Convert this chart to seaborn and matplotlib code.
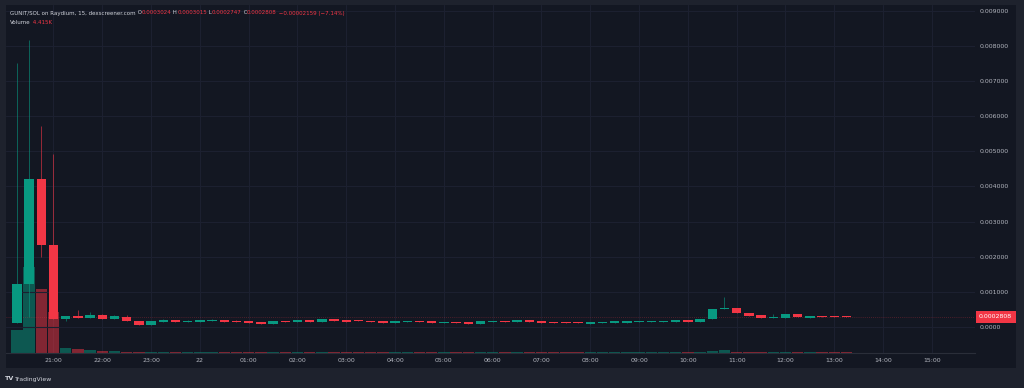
import numpy as np
import pandas as pd
import matplotlib
matplotlib.use("Agg")
import matplotlib.pyplot as plt
import seaborn as sns
from matplotlib.patches import Rectangle

# 15 minute candles, first one at 20:15 (hours counted from midnight of day 1)
start_hour = 20.25
step = 0.25

opens = [0.000105, 0.00122, 0.00422, 0.00232, 0.00024, 0.00031, 0.00025, 0.00034, 0.00024, 0.00029,
         0.00016, 0.00006, 0.00015, 0.00020, 0.00014, 0.00015, 0.00018, 0.00021, 0.00018, 0.00018,
         0.00015, 0.000085, 0.00018, 0.00013, 0.00021, 0.00015, 0.00023, 0.00020, 0.00019, 0.00018,
         0.00017, 0.00012, 0.00013, 0.00018, 0.00016, 0.00012, 0.00015, 0.00015, 0.000095, 0.00014,
         0.00018, 0.00015, 0.00019, 0.00017, 0.00015, 0.00015, 0.00015, 0.000095, 0.00010, 0.00012,
         0.00012, 0.00015, 0.00015, 0.00015, 0.00015, 0.00019, 0.00014, 0.00022, 0.00050, 0.00054,
         0.00039, 0.00033, 0.00027, 0.00027, 0.00036, 0.00027, 0.00030, 0.00030, 0.0003024]
highs = [0.00750, 0.00817, 0.00572, 0.00492, 0.00031, 0.00048, 0.00042, 0.00037, 0.00033, 0.00033,
         0.00016, 0.00017, 0.00023, 0.00020, 0.00019, 0.00021, 0.00023, 0.00021, 0.00019, 0.00018,
         0.00015, 0.00018, 0.00018, 0.00019, 0.00021, 0.00023, 0.00023, 0.00020, 0.00019, 0.00018,
         0.00017, 0.00018, 0.00018, 0.00018, 0.00016, 0.00015, 0.00015, 0.00015, 0.00017, 0.00018,
         0.00018, 0.00020, 0.00019, 0.00017, 0.00015, 0.00015, 0.00015, 0.00015, 0.00015, 0.00017,
         0.00018, 0.00018, 0.00018, 0.00018, 0.00020, 0.00019, 0.00023, 0.00050, 0.00086, 0.00054,
         0.00039, 0.00033, 0.00038, 0.00036, 0.00036, 0.00031, 0.00030, 0.00031, 0.0003024]
lows = [0.000105, 0.00029, 0.00198, 0.00022, 0.00018, 0.00025, 0.00025, 0.00024, 0.00024, 0.00016,
        0.00006, 0.00006, 0.00015, 0.00014, 0.00014, 0.00015, 0.00018, 0.00015, 0.00015, 0.00011,
        0.000085, 0.000085, 0.00015, 0.00013, 0.00015, 0.00015, 0.00017, 0.00015, 0.00016, 0.00014,
        0.00012, 0.00012, 0.00013, 0.00013, 0.00012, 0.00012, 0.00012, 0.000095, 0.000095, 0.00014,
        0.00015, 0.00015, 0.00014, 0.00012, 0.00012, 0.00012, 0.00012, 0.000095, 0.00010, 0.00012,
        0.00012, 0.00015, 0.00015, 0.00015, 0.00015, 0.00014, 0.00014, 0.00022, 0.00050, 0.00039,
        0.00032, 0.00027, 0.00027, 0.00027, 0.00029, 0.00027, 0.00029, 0.00029, 0.0002747]
closes = [0.00122, 0.00422, 0.00232, 0.00024, 0.00031, 0.00025, 0.00034, 0.00024, 0.00030, 0.00016,
          0.00006, 0.00017, 0.00021, 0.00014, 0.00018, 0.00021, 0.00020, 0.00015, 0.00015, 0.00011,
          0.000085, 0.00018, 0.00015, 0.00019, 0.00015, 0.00023, 0.00017, 0.00015, 0.00016, 0.00014,
          0.00012, 0.00018, 0.00018, 0.00013, 0.00012, 0.00015, 0.00012, 0.000095, 0.00017, 0.00018,
          0.00015, 0.00020, 0.00014, 0.00012, 0.00012, 0.00012, 0.00012, 0.00015, 0.00015, 0.00017,
          0.00018, 0.00018, 0.00018, 0.00018, 0.00020, 0.00014, 0.00023, 0.00050, 0.00054, 0.00039,
          0.00032, 0.00027, 0.00029, 0.00036, 0.00029, 0.00031, 0.00029, 0.00029, 0.0002808]
volumes_k = [99, 370, 275, 176, 21, 18, 13, 10, 7, 6,
             5, 6, 5, 5, 4, 4, 4, 5, 4, 4,
             5, 5, 4, 4, 5, 5, 4, 5, 4, 4,
             5, 4, 4, 5, 4, 4, 4, 5, 5, 4,
             4, 5, 5, 4, 4, 4, 4, 5, 5, 4,
             4, 4, 4, 4, 5, 5, 5, 9, 13, 6,
             6, 5, 4, 5, 5, 4, 4, 4, 4.415]

hour_ticks = list(range(21, 40))
hour_labels = ["21:00", "22:00", "23:00", "22", "01:00", "02:00", "03:00", "04:00", "05:00", "06:00",
               "07:00", "08:00", "09:00", "10:00", "11:00", "12:00", "13:00", "14:00", "15:00"]
price_ticks = [0.0, 0.001, 0.002, 0.003, 0.004, 0.005, 0.006, 0.007, 0.008, 0.009]
price_labels = ["0.0000", "0.001000", "0.002000", "0.003000", "0.004000", "0.005000",
                "0.006000", "0.007000", "0.008000", "0.009000"]
last_price = 0.0002808

UP = "#089981"
DOWN = "#f23645"
BG = "#131722"
OUTER = "#1e222d"
TXT = "#b2b5be"

df = pd.DataFrame({"open": opens, "high": highs, "low": lows, "close": closes, "vol": volumes_k})
df["t"] = start_hour + step * np.arange(len(df))
df["dir"] = np.where(df["close"] >= df["open"], "up", "down")
df["color"] = np.where(df["dir"] == "up", UP, DOWN)

sns.set_theme(style="dark")
plt.rcParams["font.family"] = ["DejaVu Sans"]

W, H = 1024, 388
fig = plt.figure(figsize=(W / 100, H / 100), dpi=100, facecolor=OUTER)
fig.patches.append(Rectangle((6 / W, (H - 368) / H), (1016 - 6) / W, (368 - 5) / H,
                             transform=fig.transFigure, facecolor=BG, edgecolor="none", zorder=-5))

rect = [6 / W, (H - 353) / H, (975 - 6) / W, (353 - 5) / H]

# x scale: 21:00 at px 53.5, 48.8 px per hour
px_per_hour = 48.8
x0 = 21 - (53.5 - 6) / px_per_hour
x1 = 21 + (975 - 53.5) / px_per_hour
# y scale: 0 at px 327, 0.001 per 35.14 px
px_per_unit = 35.14 / 0.001
y0 = -(353 - 327) / px_per_unit
y1 = 0.009 + (10.7 - 5) / px_per_unit

# volume pane (behind)
axv = fig.add_axes(rect)
axv.set_facecolor(BG)
sns.barplot(data=df, x="t", y="vol", hue="dir", palette={"up": UP, "down": DOWN},
            native_scale=True, width=0.95, dodge=False, saturation=1, alpha=0.5,
            errorbar=None, legend=False, linewidth=0, ax=axv)
axv.set_xlim(x0, x1)
axv.set_ylim(0, max(volumes_k) * 348 / 86)
axv.set_xticks(hour_ticks)
axv.grid(axis="x", color="#1c2030", lw=0.8)
axv.grid(axis="y", visible=False)
axv.set_yticks([])
axv.tick_params(length=0, labelbottom=False, labelleft=False)
axv.set_xlabel("")
axv.set_ylabel("")
for s in axv.spines.values():
    s.set_visible(False)

# price pane
ax = fig.add_axes(rect, sharex=axv)
ax.set_facecolor("none")
for y in price_ticks:
    ax.axhline(y, color="#1c2030", lw=0.8, zorder=0)
ax.axhline(last_price, color=DOWN, alpha=0.35, lw=0.6, ls=(0, (1, 1.5)), zorder=1)

min_h = 1.0 / px_per_unit
body_bottom = np.minimum(df["open"], df["close"])
body_h = np.maximum(np.abs(df["close"] - df["open"]), min_h)
ax.vlines(df["t"], df["low"], df["high"], colors=df["color"], lw=0.55, alpha=0.75, zorder=2)
ax.bar(df["t"], body_h, bottom=body_bottom, width=step * 0.76, color=df["color"],
       linewidth=0, zorder=3)

ax.set_xlim(x0, x1)
ax.set_ylim(y0, y1)
ax.yaxis.tick_right()
ax.set_yticks(price_ticks)
ax.set_yticklabels(price_labels)
ax.set_xticks(hour_ticks)
ax.set_xticklabels(hour_labels)
ax.tick_params(axis="y", length=0, pad=3.6, labelsize=4.5, labelcolor=TXT)
ax.tick_params(axis="x", length=0, pad=3.8, labelsize=4.5, labelcolor=TXT, labelbottom=True)
ax.grid(False)
for name, s in ax.spines.items():
    s.set_visible(name == "bottom")
ax.spines["bottom"].set_color("#2a2e39")
ax.spines["bottom"].set_linewidth(0.8)

# last price tag
fig.patches.append(Rectangle((976 / W, (H - 323) / H), 40 / W, 12 / H, transform=fig.transFigure,
                             facecolor=DOWN, edgecolor="none", zorder=5))
fig.text(979 / W, (H - 317) / H, "0.0002808", color="white", fontsize=4.5,
         va="center", ha="left", zorder=6)

# header line, pieces placed one after the other
renderer = fig.canvas.get_renderer()


def write_row(pieces, x, y, size=3.95):
    for s, c in pieces:
        t = fig.text(x / W, (H - y) / H, s, color=c, fontsize=size, va="center", ha="left")
        x = t.get_window_extent(renderer).x1


write_row([("GUNIT/SOL on Raydium, 15, dexscreener.com", "#d1d4dc"),
           (" O", "#d1d4dc"), ("0.0003024", DOWN),
           (" H", "#d1d4dc"), ("0.0003015", DOWN),
           (" L", "#d1d4dc"), ("0.0002747", DOWN),
           (" C", "#d1d4dc"), ("0.0002808", DOWN),
           (" \u22120.00002159 (\u22127.14%)", DOWN)], 10, 13)
write_row([("Volume", "#d1d4dc"), (" 4.415K", DOWN)], 10, 23)

fig.text(5 / W, (H - 379) / H, "TV", color="#d1d4dc", fontsize=4.6, fontweight="bold",
         va="center", ha="left")
fig.text(15 / W, (H - 379) / H, "TradingView", color="#d1d4dc", fontsize=4.4,
         va="center", ha="left")

fig.savefig("out.png", dpi=100, facecolor=OUTER)
